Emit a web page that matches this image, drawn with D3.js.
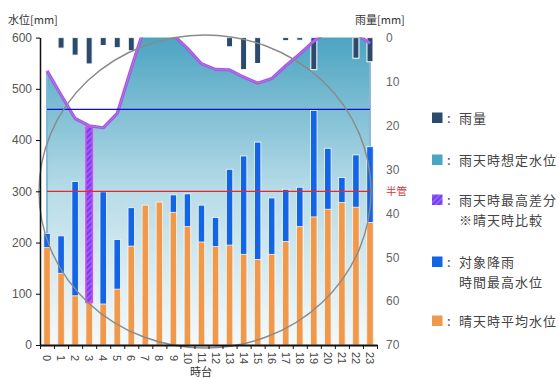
<!DOCTYPE html>
<html><head><meta charset="utf-8">
<script src="https://cdn.jsdelivr.net/npm/d3@7"></script>
<style>
html,body{margin:0;padding:0;background:#fff;}
svg{display:block;}
</style></head>
<body>
<script>
// ---- data ----
const hours = ["0","1","2","3","4","5","6","7","8","9","10","11","12","13","14","15","16","17","18","19","20","21","22","23"];
const rainfall = [0, 2.4, 4.0, 6.0, 1.8, 2.3, 3.0, 0, 0, 0, 0, 0, 0, 2.1, 7.3, 5.9, 0, 0.7, 0.6, 7.3, 0, 0, 4.7, 5.5];
const estLevel = [535, 488, 442, 428, 424, 452, 540, 625, 640, 605, 579, 549, 538, 537, 523, 511, 520, 545, 568, 593, 612, 615, 608, 589];
const rainMaxLevel = [218, 213, 319, 425, 299, 206, 268, null, null, 293, 295, 273, 249, 343, 369, 396, 287, 304, 308, 458, 384, 327, 371, 387];
const dryAvgLevel = [190, 140, 96, 83, 80, 109, 193, 273, 279, 259, 231, 201, 192, 195, 177, 167, 177, 202, 231, 250, 265, 278, 269, 239];
const maxDiffHour = 3;
const halfPipeLevel = 300;
const refLineLevel = 460;
const leftTicks = [0,100,200,300,400,500,600];
const rightTicks = [0,10,20,30,40,50,60,70];
const legendItems = [
  {key:"rain", lines:["雨量"]},
  {key:"est", lines:["雨天時想定水位"]},
  {key:"diff", lines:["雨天時最高差分","※晴天時比較"]},
  {key:"max", lines:["対象降雨","時間最高水位"]},
  {key:"dry", lines:["晴天時平均水位"]}
];

// ---- styles ----
const C = {rain:"#2b4a6c", est:"#4ba6c3", diff:"#7a3cf0", max:"#1464e6", dry:"#f0994c"};
const W=559, H=379;
const L=40, R=377, T=37.6, B=345;

const svg = d3.select("body").append("svg").attr("width",W).attr("height",H);
const defs = svg.append("defs");
const grad = defs.append("linearGradient").attr("id","g").attr("gradientUnits","userSpaceOnUse")
  .attr("x1",0).attr("y1",T).attr("x2",0).attr("y2",B);
grad.append("stop").attr("offset",0).attr("stop-color","#4ca4c2");
grad.append("stop").attr("offset",0.5).attr("stop-color","#b8dce8");
grad.append("stop").attr("offset",1).attr("stop-color","#f4fafc");
const pat = defs.append("pattern").attr("id","hatch").attr("patternUnits","userSpaceOnUse")
  .attr("width",4).attr("height",4).attr("patternTransform","rotate(45)");
pat.append("rect").attr("width",4).attr("height",4).attr("fill",C.diff);
pat.append("rect").attr("width",1.5).attr("height",4).attr("fill","#9a6cff");
defs.append("clipPath").attr("id","clip").append("rect").attr("x",L).attr("y",T).attr("width",R-L).attr("height",B-T);

const x = d3.scaleBand().domain(hours).range([L,R]).paddingInner(0.54).paddingOuter(0.27);
const cx = i => x(hours[i]) + x.bandwidth()/2;
const yL = d3.scaleLinear().domain([0,600]).range([B,T]);
const yR = d3.scaleLinear().domain([0,70]).range([T,B]);

const plot = svg.append("g").attr("clip-path","url(#clip)");

// area
const area = d3.area().x((d,i)=>cx(i)).y0(yL(0)).y1(d=>yL(d));
plot.append("path").datum(estLevel).attr("d",area).attr("fill","url(#g)");
plot.append("line").attr("x1",cx(0)).attr("x2",cx(0)).attr("y1",yL(estLevel[0])).attr("y2",yL(0))
  .attr("stroke","#7fb9d2").attr("stroke-width",2);
plot.append("line").attr("x1",cx(23)).attr("x2",cx(23)).attr("y1",yL(estLevel[23])).attr("y2",yL(0))
  .attr("stroke","#8fb6d6").attr("stroke-width",2);

// blue bars
plot.selectAll(".mx").data(rainMaxLevel.map((v,i)=>({v,i})).filter(d=>d.v!=null && d.i!==maxDiffHour))
  .enter().append("rect")
  .attr("x",d=>x(hours[d.i])).attr("width",x.bandwidth())
  .attr("y",d=>yL(d.v)).attr("height",d=>yL(0)-yL(d.v))
  .attr("fill",C.max).attr("stroke","#f4fbff").attr("stroke-width",0.8);
// orange bars
plot.selectAll(".dr").data(dryAvgLevel).enter().append("rect")
  .attr("x",(d,i)=>x(hours[i])).attr("width",x.bandwidth())
  .attr("y",d=>yL(d)).attr("height",d=>yL(0)-yL(d))
  .attr("fill",C.dry).attr("stroke","#fff4e4").attr("stroke-width",0.8);
// hatched diff bar
plot.append("rect")
  .attr("x",x(hours[maxDiffHour])).attr("width",x.bandwidth())
  .attr("y",yL(rainMaxLevel[maxDiffHour])).attr("height",yL(dryAvgLevel[maxDiffHour])-yL(rainMaxLevel[maxDiffHour]))
  .attr("fill","url(#hatch)").attr("stroke","#e04ae6").attr("stroke-width",1.5);

// rain bars
plot.selectAll(".rn").data(rainfall.map((v,i)=>({v,i})).filter(d=>d.v>0)).enter().append("rect")
  .attr("x",d=>cx(d.i)-3).attr("width",6)
  .attr("y",yR(0)).attr("height",d=>yR(d.v)-yR(0))
  .attr("fill",C.rain).attr("stroke","#fff").attr("stroke-width",1);

// purple line
const line = d3.line().x((d,i)=>cx(i)).y(d=>yL(d));
plot.append("path").datum(estLevel).attr("d",line).attr("fill","none")
  .attr("stroke","#b052ea").attr("stroke-width",3.2).attr("stroke-linejoin","round");
plot.append("path").datum(estLevel).attr("d",line).attr("fill","none")
  .attr("stroke","#8c8ed6").attr("stroke-width",0.9).attr("stroke-linejoin","round");

// reference lines
svg.append("line").attr("x1",cx(0)).attr("x2",cx(23)).attr("y1",yL(refLineLevel)).attr("y2",yL(refLineLevel))
  .attr("stroke","#1010cc").attr("stroke-width",1.2);
svg.append("line").attr("x1",cx(0)).attr("x2",cx(23)).attr("y1",yL(halfPipeLevel)).attr("y2",yL(halfPipeLevel))
  .attr("stroke","#e8262e").attr("stroke-width",1.2);

// circle annotation
svg.append("ellipse").attr("cx",205).attr("cy",191.5).attr("rx",166).attr("ry",156.5)
  .attr("fill","none").attr("stroke","#8a8a8a").attr("stroke-width",1.4);

// axes
const numFont = "'Liberation Sans', Arial, sans-serif";
const gl = svg.append("g").attr("transform",`translate(${L},0)`)
  .call(d3.axisLeft(yL).tickValues(leftTicks).tickSizeInner(4).tickSizeOuter(0).tickPadding(4));
gl.select(".domain").attr("stroke","#111").attr("stroke-width",1.5);
gl.selectAll("text").attr("font-family",numFont).attr("font-size",12).attr("fill","#555");

const gr = svg.append("g").attr("transform",`translate(${R},0)`)
  .call(d3.axisRight(yR).tickValues(rightTicks).tickSize(0).tickPadding(9));
gr.select(".domain").remove();
gr.selectAll("text").attr("font-family","'Liberation Sans Narrow', "+numFont).attr("font-size",12).attr("fill","#666");

const xb = d3.scaleLinear().domain([0,hours.length]).range([L,R]);
const gb = svg.append("g").attr("transform",`translate(0,${B})`)
  .call(d3.axisBottom(xb).tickValues(d3.range(0,hours.length+1)).tickFormat("").tickSizeInner(4).tickSizeOuter(0));
gb.select(".domain").attr("stroke","#111").attr("stroke-width",2);
gb.selectAll(".tick line").attr("stroke","#111");
const gx = svg.append("g").attr("transform",`translate(0,${B})`)
  .call(d3.axisBottom(x).tickSize(0));
gx.select(".domain").remove();
gx.selectAll("text").attr("transform","rotate(90)").attr("x",13).attr("y",0).attr("dy","0.35em")
  .attr("text-anchor","middle").attr("font-family",numFont).attr("font-size",11).attr("fill","#444");

const jp = "'Noto Sans CJK JP', sans-serif";
svg.append("text").attr("x",8).attr("y",24).text("水位[mm]").attr("font-family",jp).attr("font-size",11).attr("fill","#333");
svg.append("text").attr("x",355).attr("y",24).text("雨量[mm]").attr("font-family",jp).attr("font-size",11).attr("fill","#333");
svg.append("text").attr("x",190).attr("y",376).text("時台").attr("font-family",jp).attr("font-size",11).attr("fill","#333");
svg.append("text").attr("x",386).attr("y",yL(halfPipeLevel)).attr("dy","0.35em").text("半管")
  .attr("font-family",jp).attr("font-size",10.5).attr("fill","#d03a3a");

// legend
const legY = [118, 160, 200, 262, 321];
const lg = svg.append("g");
legendItems.forEach((it,k)=>{
  const y0 = legY[k];
  lg.append("rect").attr("x",432).attr("y",y0-5.5).attr("width",10.5).attr("height",10.5)
    .attr("fill", it.key==="diff" ? "url(#hatch)" : C[it.key]);
  lg.append("text").attr("x",447).attr("y",y0).attr("dy","0.35em").text(":")
    .attr("font-family",jp).attr("font-size",13).attr("fill","#444");
  it.lines.forEach((t,j)=>{
    lg.append("text").attr("x",459).attr("y",y0 + j*20).attr("dy","0.35em").text(t)
      .attr("font-family",jp).attr("font-size",13).attr("letter-spacing",1).attr("fill","#444");
  });
});
</script>
</body></html>
